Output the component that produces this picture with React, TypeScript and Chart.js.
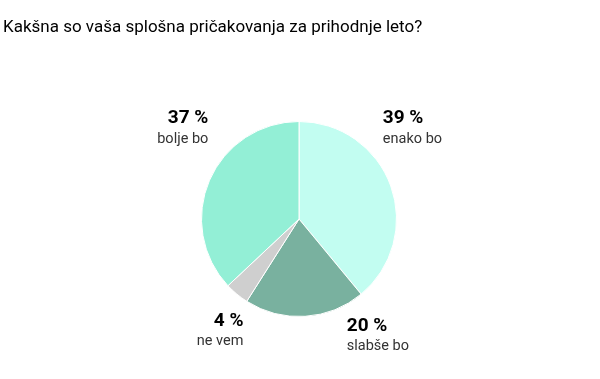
import React, { useEffect, useRef } from "react";
import { Chart, registerables } from "chart.js";

Chart.register(...registerables);

const TITLE = "Kakšna so vaša splošna pričakovanja za prihodnje leto?";
const categories = ["enako bo", "slabše bo", "ne vem", "bolje bo"];
const values = [39, 20, 4, 37];
const colors = ["#c2fdf1", "#79b19f", "#cfcfcf", "#93efd6"];

// label anchors relative to pie centre, in units of radius
const labelAnchors = [
  { dx: 0.86, dy: -0.98, gap: 20, align: "left" as CanvasTextAlign },
  { dx: 0.49, dy: 1.15, gap: 19, align: "left" as CanvasTextAlign },
  { dx: -0.57, dy: 1.1, gap: 19, align: "right" as CanvasTextAlign },
  { dx: -0.93, dy: -0.98, gap: 20, align: "right" as CanvasTextAlign },
];

const FONT = "Roboto, 'Noto Sans', sans-serif";

const labelPlugin = {
  id: "cornerLabels",
  afterDraw(chart: any) {
    const ctx = chart.ctx as CanvasRenderingContext2D;
    const meta = chart.getDatasetMeta(0);
    const arc = meta.data[0];
    const cx = arc.x;
    const cy = arc.y;
    const r = arc.outerRadius;
    ctx.save();
    ctx.fillStyle = "#000";
    ctx.textBaseline = "alphabetic";
    ctx.textAlign = "left";
    ctx.font = `17px ${FONT}`;
    ctx.fillText(TITLE, 3, 32);
    const vals = chart.data.datasets[0].data;
    chart.data.labels.forEach((lab: string, i: number) => {
      const a = labelAnchors[i];
      const x = cx + a.dx * r;
      const y = cy + a.dy * r;
      ctx.textAlign = a.align;
      ctx.fillStyle = "#000";
      ctx.font = `bold 19px ${FONT}`;
      ctx.fillText(`${vals[i]} %`, x, y);
      ctx.fillStyle = "#333";
      ctx.font = `14.5px ${FONT}`;
      ctx.fillText(lab, x, y + a.gap);
    });
    ctx.restore();
  },
};

export default function App() {
  const ref = useRef<HTMLCanvasElement | null>(null);
  useEffect(() => {
    if (!ref.current) return;
    const chart = new Chart(ref.current, {
      type: "pie",
      data: {
        labels: categories,
        datasets: [
          {
            data: values,
            backgroundColor: colors,
            borderColor: "#ffffff",
            borderWidth: 1,
          },
        ],
      },
      options: {
        animation: false,
        responsive: false,
        layout: { padding: { left: 201, right: 203, top: 121, bottom: 62 } },
        plugins: {
          legend: { display: false },
          tooltip: { enabled: false },
          title: { display: false },
        },
      },
      plugins: [labelPlugin],
    });
    return () => chart.destroy();
  }, []);
  return (
    <div style={{ position: "fixed", left: 0, top: 0, width: 600, height: 379, background: "#fff" }}>
      <canvas ref={ref} width={600} height={379} style={{ width: 600, height: 379 }} />
    </div>
  );
}
